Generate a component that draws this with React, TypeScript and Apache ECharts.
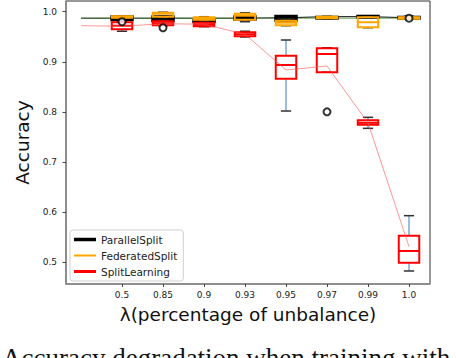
import React, { useEffect, useRef } from "react";
import * as echarts from "echarts";

const categories = ["0.5", "0.85", "0.9", "0.93", "0.95", "0.97", "0.99", "1.0"];
const yTicks = [0.5, 0.6, 0.7, 0.8, 0.9, 1.0];

// [min, q1, median, q3, max] for each category
const parallelSplit = [
  [0.983, 0.984, 0.987, 0.99, 0.991],
  [0.981, 0.982, 0.986, 0.99, 0.991],
  [0.979, 0.98, 0.981, 0.982, 0.983],
  [0.984, 0.985, 0.987, 0.99, 0.991],
  [0.982, 0.983, 0.988, 0.991, 0.992],
  [0.986, 0.987, 0.988, 0.989, 0.99],
  [0.988, 0.989, 0.99, 0.991, 0.992],
  [0.986, 0.987, 0.988, 0.989, 0.991],
];
const federatedSplit = [
  [0.987, 0.988, 0.99, 0.991, 0.992],
  [0.989, 0.99, 0.996, 0.998, 0.999],
  [0.983, 0.984, 0.986, 0.989, 0.99],
  [0.98, 0.984, 0.992, 0.996, 0.998],
  [0.972, 0.973, 0.978, 0.982, 0.983],
  [0.986, 0.987, 0.988, 0.99, 0.991],
  [0.968, 0.969, 0.979, 0.989, 0.99],
  [0.985, 0.986, 0.988, 0.989, 0.99],
];
const splitLearning = [
  [0.961, 0.965, 0.972, 0.979, 0.98],
  [0.972, 0.973, 0.977, 0.981, 0.982],
  [0.97, 0.971, 0.974, 0.978, 0.979],
  [0.9495, 0.951, 0.955, 0.959, 0.961],
  [0.8016, 0.866, 0.8935, 0.912, 0.9435],
  [0.879, 0.879, 0.9155, 0.927, 0.928],
  [0.767, 0.774, 0.778, 0.783, 0.789],
  [0.482, 0.4986, 0.522, 0.5525, 0.5925],
];
// [category index, value]
const outliers = [
  [0, 0.98],
  [1, 0.968],
  [5, 0.8],
  [7, 0.987],
];
// trend lines, one point per slot (slot 0 is left of the first category)
const greenLine = [0.987, 0.987, 0.987, 0.987, 0.987, 0.987, 0.987, 0.987, 0.987];
const blackLine = [0.987, 0.987, 0.987, 0.987, 0.987, 0.988, 0.99, 0.99, 0.988];
const redLine = [0.972, 0.971, 0.976, 0.975, 0.955, 0.8835, 0.8915, 0.778, 0.5306];

const FONT = "DejaVu Sans";

function boxData(stats: number[][]) {
  return stats.map((s, i) => [i + 1, ...s]);
}

function boxRenderer(color: string, lw: number) {
  return (_params: any, api: any) => {
    const x = api.value(0);
    const lo = api.coord([x, api.value(1)]);
    const q1 = api.coord([x, api.value(2)]);
    const med = api.coord([x, api.value(3)]);
    const q3 = api.coord([x, api.value(4)]);
    const hi = api.coord([x, api.value(5)]);
    const band = api.size([1, 0])[0];
    const bw = band * 0.5;
    const cw = bw * 0.5;
    const cx = lo[0];
    const whisk = { stroke: "#7ba7d4", lineWidth: 1.5 };
    const cap = { stroke: "#333", lineWidth: 1.5 };
    return {
      type: "group",
      children: [
        { type: "line", shape: { x1: cx, y1: hi[1], x2: cx, y2: q3[1] }, style: whisk },
        { type: "line", shape: { x1: cx, y1: q1[1], x2: cx, y2: lo[1] }, style: whisk },
        { type: "line", shape: { x1: cx - cw / 2, y1: hi[1], x2: cx + cw / 2, y2: hi[1] }, style: cap },
        { type: "line", shape: { x1: cx - cw / 2, y1: lo[1], x2: cx + cw / 2, y2: lo[1] }, style: cap },
        {
          type: "rect",
          shape: { x: cx - bw / 2, y: q3[1], width: bw, height: q1[1] - q3[1] },
          style: { fill: "rgba(0,0,0,0)", stroke: color, lineWidth: lw },
        },
        {
          type: "line",
          shape: { x1: cx - bw / 2, y1: med[1], x2: cx + bw / 2, y2: med[1] },
          style: { stroke: color, lineWidth: 2 },
        },
      ],
    };
  };
}

function legendIcon(t: number) {
  const a = 5 - t / 2;
  const b = 5 + t / 2;
  return `path://M0,0L22,0M0,${a}L22,${a}L22,${b}L0,${b}ZM0,10L22,10`;
}

export default function App() {
  const ref = useRef<HTMLDivElement>(null);
  useEffect(() => {
    if (!ref.current) return;
    const chart = echarts.init(ref.current, undefined, { renderer: "svg" });
    const xTickPos = categories.map((_, i) => i + 1);
    const slots = greenLine.map((_, i) => i);
    const option: any = {
      animation: false,
      backgroundColor: "#fff",
      grid: {
        left: 66,
        top: 1,
        width: 364,
        height: 283,
        show: true,
        borderColor: "#333",
        borderWidth: 1,
      },
      xAxis: {
        type: "value",
        min: -0.366,
        max: 8.512,
        axisLine: { show: true, onZero: false, lineStyle: { color: "#8a8a8a", width: 1.5 } },
        axisTick: { show: true, length: 3, customValues: xTickPos, lineStyle: { color: "#444" } },
        axisLabel: {
          customValues: xTickPos,
          formatter: (v: number) => categories[Math.round(v) - 1] ?? "",
          fontSize: 9,
          color: "#222",
          fontFamily: FONT,
          margin: 6,
        },
        splitLine: { show: false },
        name: "λ(percentage of unbalance)",
        nameLocation: "middle",
        nameGap: 21,
        nameTextStyle: { fontSize: 18.5, fontFamily: FONT, color: "#111" },
      },
      yAxis: {
        type: "value",
        min: 0.456,
        max: 1.0214,
        axisLine: { show: true, onZero: false, lineStyle: { color: "#8a8a8a", width: 1.5 } },
        axisTick: { show: true, length: 3.5, customValues: yTicks, lineStyle: { color: "#444" } },
        axisLabel: {
          customValues: yTicks,
          formatter: (v: number) => v.toFixed(1),
          fontSize: 9,
          color: "#222",
          fontFamily: FONT,
          margin: 9,
        },
        splitLine: { show: false },
        name: "Accuracy",
        nameLocation: "middle",
        nameGap: 27,
        nameTextStyle: { fontSize: 18.5, fontFamily: FONT, color: "#111" },
      },
      legend: {
        left: 70,
        top: 230,
        orient: "vertical",
        itemWidth: 22,
        itemHeight: 10,
        itemGap: 5,
        padding: [4, 6, 4, 4],
        backgroundColor: "#fff",
        borderColor: "#d0d0d0",
        borderWidth: 1,
        borderRadius: 3,
        textStyle: { fontSize: 10.5, fontFamily: FONT, color: "#222" },
        data: [
          { name: "ParallelSplit", icon: legendIcon(3.5), itemStyle: { color: "#000", borderWidth: 0 } },
          { name: "FederatedSplit", icon: legendIcon(2), itemStyle: { color: "#ffa500", borderWidth: 0 } },
          { name: "SplitLearning", icon: legendIcon(3), itemStyle: { color: "#ff0000", borderWidth: 0 } },
        ],
      },
      graphic: [
        {
          type: "text",
          x: 2,
          y: 357.5,
          style: {
            text: "Accuracy degradation when training with",
            fontFamily: "Liberation Serif",
            fontSize: 27,
            fill: "#111",
            verticalAlign: "middle",
          },
        },
      ],
      series: [
        {
          name: "trend-black",
          type: "line",
          data: slots.map((s) => [s, blackLine[s]]),
          symbol: "none",
          lineStyle: { color: "#000", width: 1 },
          z: 1,
        },
        {
          name: "trend-green",
          type: "line",
          data: slots.map((s) => [s, greenLine[s]]),
          symbol: "none",
          lineStyle: { color: "#4d8f3a", width: 1, opacity: 0.8 },
          z: 1,
        },
        {
          name: "ParallelSplit",
          type: "custom",
          renderItem: boxRenderer("#000", 3),
          data: boxData(parallelSplit),
          encode: { x: 0, y: [1, 2, 3, 4, 5] },
          itemStyle: { color: "#000" },
          z: 2,
        },
        {
          name: "FederatedSplit",
          type: "custom",
          renderItem: boxRenderer("#ffa500", 2),
          data: boxData(federatedSplit),
          encode: { x: 0, y: [1, 2, 3, 4, 5] },
          itemStyle: { color: "#ffa500" },
          z: 3,
        },
        {
          name: "SplitLearning",
          type: "custom",
          renderItem: boxRenderer("#ff0000", 2),
          data: boxData(splitLearning),
          encode: { x: 0, y: [1, 2, 3, 4, 5] },
          itemStyle: { color: "#ff0000" },
          z: 4,
        },
        {
          name: "trend-red",
          type: "line",
          data: slots.map((s) => [s, redLine[s]]),
          symbol: "none",
          lineStyle: { color: "#ff5a5a", width: 0.8, opacity: 0.8 },
          z: 5,
        },
        {
          name: "outliers",
          type: "scatter",
          data: outliers.map((o) => [o[0] + 1, o[1]]),
          symbol: "emptyCircle",
          symbolSize: 7,
          itemStyle: { color: "#000", borderColor: "#000", borderWidth: 0.9 },
          z: 6,
        },
      ],
    };
    chart.setOption(option);
    return () => chart.dispose();
  }, []);
  return (
    <div
      ref={ref}
      style={{ position: "fixed", left: 0, top: 0, width: 456, height: 358, background: "#fff" }}
    />
  );
}
